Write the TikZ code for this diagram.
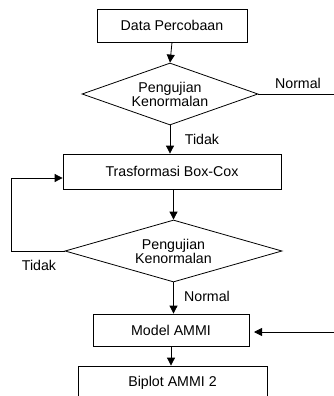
\documentclass[tikz,border=0pt]{standalone}
\usepackage{fontspec}
\setmainfont{Liberation Sans}
\usetikzlibrary{shapes.geometric,arrows.meta}
\begin{document}
\begin{tikzpicture}[x=1pt,y=-1pt,
  font=\fontsize{14.2}{14}\selectfont,
  procbox/.style={draw,line width=0.8pt,inner sep=0pt,align=center},
  decision/.style={draw,line width=0.8pt,diamond,inner sep=0pt,aspect=2.8,align=center,minimum width=176pt,minimum height=62pt},
  conn/.style={line width=0.8pt},
  arr/.style={conn,-{Triangle[length=8pt,width=8pt]}},
  lbl/.style={inner sep=0pt}]
\clip (0,0) rectangle (334,396);
\fill[white] (0,0) rectangle (334,396);
\node[procbox,minimum width=150pt,minimum height=33pt] (data) at (172,25.5) {Data Percobaan};
\node[decision] (d1) at (170,94) {Pengujian\\Kenormalan};
\node[procbox,minimum width=218pt,minimum height=35pt] (boxcox) at (172,171.5) {Trasformasi Box-Cox};
\node[decision,minimum width=217pt] (d2) at (173.5,251) {Pengujian\\Kenormalan};
\node[procbox,minimum width=156pt,minimum height=32pt] (ammi) at (171,330) {Model AMMI};
\node[procbox,minimum width=189pt,minimum height=34pt] (biplot) at (172.5,383) {Biplot AMMI 2};
\coordinate (rtop) at (334,94);
\coordinate (rbot) at (334,332);
\coordinate (ammiin) at (254,332);
\coordinate (lt) at (11,178);
\coordinate (lb) at (11,251);
\node[lbl] (normal1) at (298,83) {Normal};
\node[lbl] (tidak1) at (202,139) {Tidak};
\node[lbl] (tidak2) at (39,265) {Tidak};
\node[lbl] (normal2) at (207,296) {Normal};
\draw[arr] (data.south) -- (d1.north);
\draw[arr] (d1.south) -- (d1.south |- boxcox.north);
\draw[conn] (d1.east) -- (rtop);
\draw[arr] (boxcox.south -| d2.north) -- (d2.north);
\draw[conn] (d2.west) -- (lb) -- (lt);
\draw[arr] (lt) -- (lt -| boxcox.west);
\draw[arr] (d2.south) -- (d2.south |- ammi.north);
\draw[arr] (rbot) -- (ammiin);
\draw[arr] (ammi.south) -- (ammi.south |- biplot.north);
\end{tikzpicture}
\end{document}
